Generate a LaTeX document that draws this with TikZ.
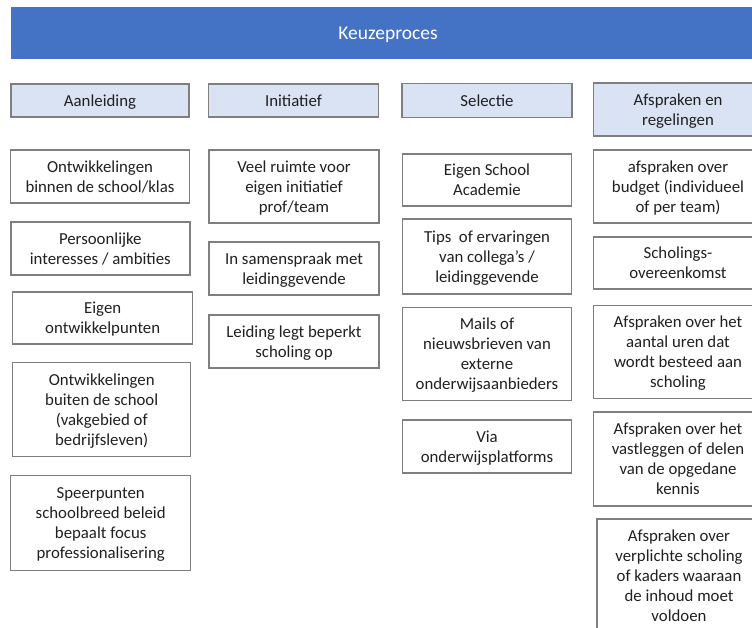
\documentclass[tikz,border=0pt]{standalone}
\usepackage{fontspec}
\setmainfont{Carlito}
\definecolor{barblue}{HTML}{4472C4}
\definecolor{headfill}{HTML}{DAE3F3}
\definecolor{edge}{HTML}{7F7F7F}
\definecolor{ink}{HTML}{202020}
% strut with the full ascent/descent of the font; one opens the first line
% of every label and one closes the last, so text blocks centre evenly
\newcommand{\lnstrut}{\rule[-0.269em]{0pt}{1.221em}}
\tikzset{
  cell/.style={draw=edge, line width=1.5pt, fill=white, rectangle, inner sep=0pt,
    align=center, text=ink, font=\fontsize{16.8}{20}\selectfont,
    execute at end node=\lnstrut},
  headcell/.style={cell, fill=headfill},
  titlebar/.style={rectangle, fill=barblue, inner sep=0pt, text=white,
    font=\fontsize{19.5}{23}\selectfont,
    execute at begin node=\lnstrut, execute at end node=\lnstrut},
}
\begin{document}
\begin{tikzpicture}[x=1pt, y=-1pt]
\useasboundingbox (0,0) rectangle (752,627);
\fill[white] (0,0) rectangle (752,627);
\clip (0,0) rectangle (752,627);

% title bar
\node[titlebar, minimum width=754pt, minimum height=52pt] (title) at (388,33) {Keuzeproces};

% column headers
\node[headcell, minimum width=178pt, minimum height=33pt] (hA) at (100,100.5) {\lnstrut Aanleiding};
\node[headcell, minimum width=170pt, minimum height=33pt] (hI) at (293.5,100.5) {\lnstrut Initiatief};
\node[headcell, minimum width=170pt, minimum height=34pt] (hS) at (487,100.3) {\lnstrut Selectie};
\node[headcell, minimum width=169pt, minimum height=53pt] (hR) at (678,109.3) {\lnstrut Afspraken en\\regelingen};

% Aanleiding
\node[cell, minimum width=179pt, minimum height=53pt] (a1) at (100,176.3) {\lnstrut Ontwikkelingen\\binnen de school/klas};
\node[cell, minimum width=179pt, minimum height=53pt] (a2) at (100.3,248.3) {\lnstrut Persoonlijke\\interesses / ambities};
\node[cell, minimum width=180pt, minimum height=52pt] (a3) at (102.7,318) {\lnstrut Eigen\\ontwikkelpunten};
\node[cell, minimum width=178pt, minimum height=94pt] (a4) at (101.7,409.7) {\lnstrut Ontwikkelingen\\buiten de school\\(vakgebied of\\bedrijfsleven)};
\node[cell, minimum width=180pt, minimum height=95pt] (a5) at (100.7,523.2) {\lnstrut Speerpunten\\schoolbreed beleid\\bepaalt focus\\professionalisering};

% Initiatief
\node[cell, minimum width=170pt, minimum height=73pt] (i1) at (294,186.3) {\lnstrut Veel ruimte voor\\eigen initiatief\\prof/team};
\node[cell, minimum width=170pt, minimum height=53pt] (i2) at (294,268.3) {\lnstrut In samenspraak met\\leidinggevende};
\node[cell, minimum width=170pt, minimum height=53pt] (i3) at (294,341.7) {\lnstrut Leiding legt beperkt\\scholing op};

% Selectie
\node[cell, minimum width=169pt, minimum height=52pt] (s1) at (487,179.8) {\lnstrut Eigen School\\Academie};
\node[cell, minimum width=169pt, minimum height=75pt] (s2) at (487,256.7) {\lnstrut Tips\ \ of ervaringen\\van collega’s /\\leidinggevende};
\node[cell, minimum width=169pt, minimum height=93pt] (s3) at (487,354) {\lnstrut Mails of\\nieuwsbrieven van\\externe\\onderwijsaanbieders};
\node[cell, minimum width=169pt, minimum height=53pt] (s4) at (487,446.7) {\lnstrut Via\\onderwijsplatforms};

% Afspraken en regelingen
\node[cell, minimum width=169pt, minimum height=73pt] (r1) at (678,186.7) {\lnstrut afspraken over\\budget (individueel\\of per team)};
\node[cell, minimum width=169pt, minimum height=52pt] (r2) at (678,262.8) {\lnstrut Scholings-\\overeenkomst};
\node[cell, minimum width=169pt, minimum height=93pt] (r3) at (678,352) {\lnstrut Afspraken over het\\aantal uren dat\\wordt besteed aan\\scholing};
\node[cell, minimum width=169pt, minimum height=94pt] (r4) at (678,459.2) {\lnstrut Afspraken over het\\vastleggen of delen\\van de opgedane\\kennis};
\node[cell, minimum width=164pt, minimum height=114pt] (r5) at (679,576) {\lnstrut Afspraken over\\verplichte scholing\\of kaders waaraan\\de inhoud moet\\voldoen};
\end{tikzpicture}
\end{document}
